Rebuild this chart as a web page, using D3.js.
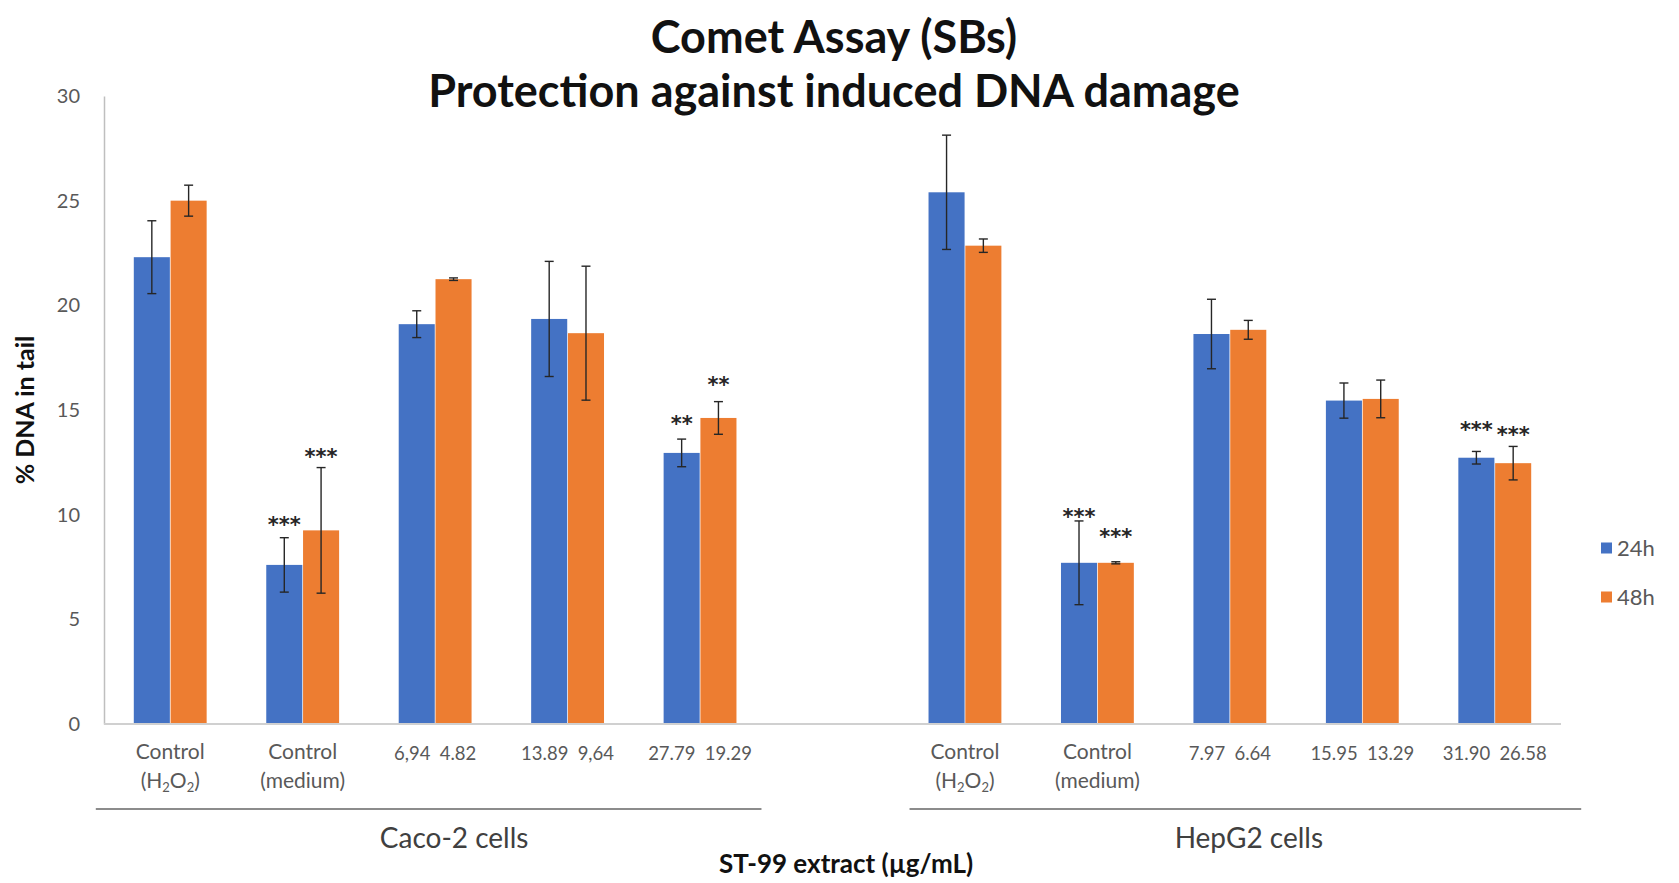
<!DOCTYPE html>
<html>
<head>
<meta charset="utf-8">
<script src="https://cdn.jsdelivr.net/npm/d3@7"></script>
<style>
  html, body { margin: 0; padding: 0; background: #fff; }
  svg { display: block; font-family: Lato, 'Open Sans', sans-serif; }
</style>
</head>
<body>
<div id="chart"></div>
<script>
// Comet assay (SBs) - % DNA in tail, 24h vs 48h, Caco-2 and HepG2 cells

const series = ['24h', '48h'];
const cellLines = ['Caco-2 cells', 'HepG2 cells'];

// Caco-2
const caco24 = [22.3, 7.6, 19.1, 19.35, 12.95];
const caco24Err = [1.74, 1.3, 0.64, 2.75, 0.66];
const caco48 = [25.0, 9.25, 21.25, 18.67, 14.62];
const caco48Err = [0.74, 3.0, 0.06, 3.2, 0.78];
const caco24Labels = ['', '', '6,94', '13.89', '27.79'];
const caco48Labels = ['', '', '4.82', '9,64', '19.29'];
const caco24Stars = ['', '***', '', '', '**'];
const caco48Stars = ['', '***', '', '', '**'];
const caco24StarAt = [null, 9.75, null, null, 14.56];
const caco48StarAt = [null, 13.0, null, null, 16.44];

// HepG2
const hep24 = [25.4, 7.7, 18.63, 15.45, 12.72];
const hep24Err = [2.73, 2.0, 1.66, 0.84, 0.3];
const hep48 = [22.85, 7.7, 18.83, 15.53, 12.46];
const hep48Err = [0.32, 0.05, 0.45, 0.9, 0.8];
const hep24Labels = ['', '', '7.97', '15.95', '31.90'];
const hep48Labels = ['', '', '6.64', '13.29', '26.58'];
const hep24Stars = ['', '***', '', '', '***'];
const hep48Stars = ['', '***', '', '', '***'];
const hep24StarAt = [null, 10.15, null, null, 14.3];
const hep48StarAt = [null, 9.17, null, null, 14.05];

const yTicks = [0, 5, 10, 15, 20, 25, 30];

// slots on the category axis (one empty slot between the two cell lines)
const slots = ['c0', 'c1', 'c2', 'c3', 'c4', 'gap', 'h0', 'h1', 'h2', 'h3', 'h4'];

const width = 1679;
const height = 883;
const colors = { '24h': '#4472C4', '48h': '#ED7D31' };

function buildRows(prefix, v24, e24, l24, s24, a24, v48, e48, l48, s48, a48) {
  const rows = [];
  v24.forEach((v, i) => {
    rows.push({ slot: prefix + i, series: '24h', value: v, err: e24[i], label: l24[i], star: s24[i], starAt: a24[i] });
    rows.push({ slot: prefix + i, series: '48h', value: v48[i], err: e48[i], label: l48[i], star: s48[i], starAt: a48[i] });
  });
  return rows;
}

const rows = buildRows('c', caco24, caco24Err, caco24Labels, caco24Stars, caco24StarAt,
                             caco48, caco48Err, caco48Labels, caco48Stars, caco48StarAt)
  .concat(buildRows('h', hep24, hep24Err, hep24Labels, hep24Stars, hep24StarAt,
                         hep48, hep48Err, hep48Labels, hep48Stars, hep48StarAt));

// one dose label per category: "<24h dose> <48h dose>"
const doseLabels = [];
caco24Labels.forEach((l, i) => { if (l) doseLabels.push({ slot: 'c' + i, text: l + '\u2002' + caco48Labels[i] }); });
hep24Labels.forEach((l, i) => { if (l) doseLabels.push({ slot: 'h' + i, text: l + '\u2002' + hep48Labels[i] }); });

const svg = d3.select('#chart').append('svg')
  .attr('width', width)
  .attr('height', height);

const x0 = d3.scaleBand()
  .domain(slots)
  .range([104, 1561])
  .paddingInner(0.45)
  .paddingOuter(0.225);

const x1 = d3.scaleBand()
  .domain(series)
  .range([0, x0.bandwidth()])
  .paddingInner(0.02);

const y = d3.scaleLinear()
  .domain([0, 30])
  .range([724, 96]);

// --- Title ---
const title = svg.append('g')
  .attr('font-weight', 700)
  .attr('font-size', 45)
  .attr('fill', '#111')
  .attr('text-anchor', 'middle');
title.append('text').attr('x', 834).attr('y', 53).text('Comet Assay (SBs)');
title.append('text').attr('x', 834).attr('y', 107).text('Protection against induced DNA damage');

// --- Y axis ---
const yAxis = svg.append('g')
  .attr('transform', 'translate(104,0)')
  .call(d3.axisLeft(y).tickValues(yTicks).tickSize(0).tickPadding(24));
yAxis.select('.domain').attr('stroke', '#bfbfbf').attr('stroke-width', 1.5);
yAxis.selectAll('text')
  .attr('font-family', 'Lato, sans-serif')
  .attr('font-size', 20)
  .attr('fill', '#595959');

svg.append('text')
  .attr('transform', 'translate(34,410) rotate(-90)')
  .attr('text-anchor', 'middle')
  .attr('font-weight', 700)
  .attr('font-size', 25)
  .attr('fill', '#111')
  .text('% DNA in tail');

// --- Bars ---
const barG = svg.append('g');
barG.selectAll('rect')
  .data(rows)
  .join('rect')
  .attr('x', (d) => x0(d.slot) + x1(d.series))
  .attr('y', (d) => y(d.value))
  .attr('width', x1.bandwidth())
  .attr('height', (d) => y(0) - y(d.value))
  .attr('fill', (d) => colors[d.series]);

// baseline
svg.append('line')
  .attr('x1', x0.range()[0])
  .attr('x2', x0.range()[1])
  .attr('y1', y(0))
  .attr('y2', y(0))
  .attr('stroke', '#d0d0d0')
  .attr('stroke-width', 2);

// --- Error bars ---
const errG = svg.append('g')
  .attr('stroke', '#262626')
  .attr('stroke-width', 1.4);
const cx = (d) => x0(d.slot) + x1(d.series) + x1.bandwidth() / 2;
errG.selectAll('line.v')
  .data(rows)
  .join('line')
  .attr('class', 'v')
  .attr('x1', cx)
  .attr('x2', cx)
  .attr('y1', (d) => y(d.value + d.err))
  .attr('y2', (d) => y(d.value - d.err));
['top', 'bottom'].forEach((side) => {
  errG.selectAll('line.' + side)
    .data(rows)
    .join('line')
    .attr('class', side)
    .attr('x1', (d) => cx(d) - 4.5)
    .attr('x2', (d) => cx(d) + 4.5)
    .attr('y1', (d) => y(side === 'top' ? d.value + d.err : d.value - d.err))
    .attr('y2', (d) => y(side === 'top' ? d.value + d.err : d.value - d.err));
});

// --- Significance stars ---
svg.append('g')
  .selectAll('text')
  .data(rows.filter((d) => d.star))
  .join('text')
  .attr('x', cx)
  .attr('y', (d) => y(d.starAt) + 12)
  .attr('text-anchor', 'middle')
  .attr('font-family', "'DejaVu Sans', sans-serif")
  .attr('font-weight', 700)
  .attr('font-size', 21)
  .attr('fill', '#262626')
  .text((d) => d.star);

// --- Category labels ---
const labelG = svg.append('g')
  .attr('font-size', 21)
  .attr('fill', '#595959')
  .attr('text-anchor', 'middle');

labelG.selectAll('text.dose')
  .data(doseLabels)
  .join('text')
  .attr('class', 'dose')
  .attr('x', (d) => x0(d.slot) + x0.bandwidth() / 2)
  .attr('y', 760)
  .attr('font-size', 18.5)
  .text((d) => d.text);

const controlSlots = ['c0', 'c1', 'h0', 'h1'];
controlSlots.forEach((s) => {
  const mid = x0(s) + x0.bandwidth() / 2;
  labelG.append('text').attr('x', mid).attr('y', 759).text('Control');
  const t = labelG.append('text').attr('x', mid).attr('y', 788);
  if (s.endsWith('0')) {
    t.append('tspan').text('(H');
    t.append('tspan').attr('font-size', 13).attr('dy', 4).text('2');
    t.append('tspan').attr('dy', -4).text('O');
    t.append('tspan').attr('font-size', 13).attr('dy', 4).text('2');
    t.append('tspan').attr('dy', -4).text(')');
  } else {
    t.text('(medium)');
  }
});

// --- Cell line brackets ---
const groupSlots = [['c0', 'c4'], ['h0', 'h4']];
const bracketPad = [[38, 25], [19, 50]];
groupSlots.forEach(([a, b], i) => {
  const left = x0(a) - bracketPad[i][0];
  const right = x0(b) + x0.bandwidth() + bracketPad[i][1];
  svg.append('line')
    .attr('x1', left)
    .attr('x2', right)
    .attr('y1', 809)
    .attr('y2', 809)
    .attr('stroke', '#8c8c8c')
    .attr('stroke-width', 2);
  svg.append('text')
    .attr('x', (x0(a) + x0(b) + x0.bandwidth()) / 2 + 19)
    .attr('y', 848)
    .attr('text-anchor', 'middle')
    .attr('font-size', 28)
    .attr('fill', '#404040')
    .text(cellLines[i]);
});

svg.append('text')
  .attr('x', 846)
  .attr('y', 873)
  .attr('text-anchor', 'middle')
  .attr('font-weight', 700)
  .attr('font-size', 26)
  .attr('fill', '#111')
  .text('ST-99 extract (µg/mL)');

// --- Legend ---
const legend = svg.append('g')
  .selectAll('g')
  .data(series)
  .join('g')
  .attr('transform', (d, i) => `translate(1601,${548 + i * 49})`);
legend.append('rect')
  .attr('x', 0)
  .attr('y', -5.5)
  .attr('width', 11)
  .attr('height', 11)
  .attr('fill', (d) => colors[d]);
legend.append('text')
  .attr('x', 16)
  .attr('y', 7.5)
  .attr('font-size', 22)
  .attr('fill', '#595959')
  .text((d) => d);
</script>
</body>
</html>
